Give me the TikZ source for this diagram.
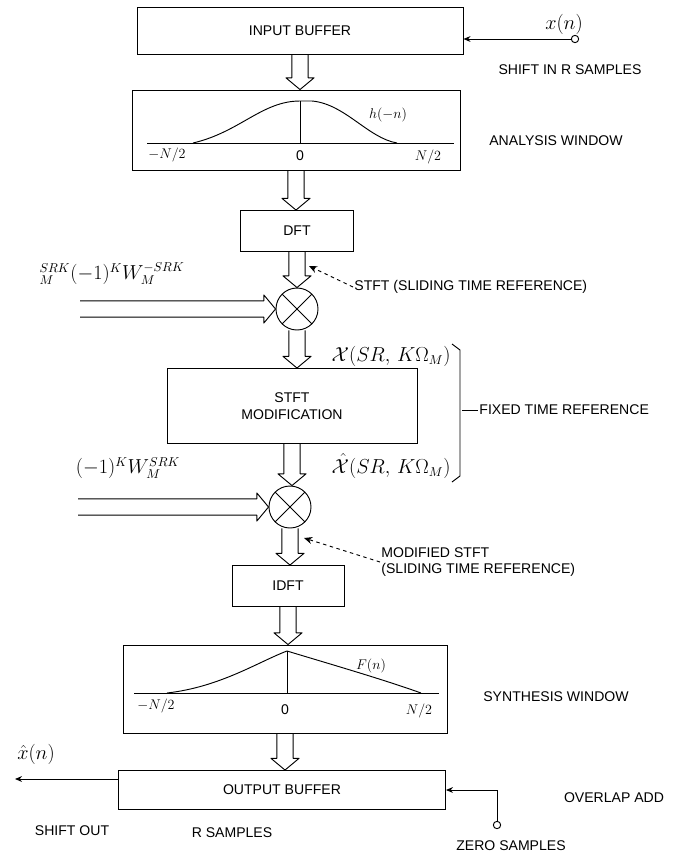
\documentclass[tikz,border=0pt]{standalone}
\usepackage{fontspec}
\setmainfont{Liberation Sans}
\usepackage{amsmath}
\usetikzlibrary{arrows.meta,calc}

\begin{document}
\begin{tikzpicture}[x=0.03cm, y=-0.03cm,
        box/.style={rectangle, draw, thick, align=center, font=\fontsize{12}{14}\selectfont},
        mult/.style={circle, draw, thick, minimum size=1.26cm, inner sep=0pt,
            path picture={\draw[thick] (path picture bounding box.north west) -- (path picture bounding box.south east)
                (path picture bounding box.north east) -- (path picture bounding box.south west);}},
        lbl/.style={font=\fontsize{12}{14}\selectfont, inner sep=1pt},
        mathlbl/.style={font=\fontsize{16}{18}\selectfont, inner sep=1pt},
        tap/.style={circle, draw, thick, inner sep=0pt, minimum size=0.22cm},
        hollowdown/.style={draw, thick, line join=round, to path={let \p1=(\tikztostart), \p2=(\tikztotarget) in
            (\x1-7pt,\y1) -- (\x1-7pt,\y2+10pt) -- (\x1-12pt,\y2+10pt) -- (\x1,\y2)
            -- (\x1+12pt,\y2+10pt) -- (\x1+7pt,\y2+10pt) -- (\x1+7pt,\y1)}},
        hollowright/.style={draw, thick, line join=round, to path={let \p1=(\tikztostart), \p2=(\tikztotarget) in
            (\x1,\y1+7pt) -- (\x2-10pt,\y1+7pt) -- (\x2-10pt,\y1+12pt) -- (\x2,\y1)
            -- (\x2-10pt,\y1-12pt) -- (\x2-10pt,\y1-7pt) -- (\x1,\y1-7pt)}},
        wire/.style={draw, thick, -{Stealth[length=6pt, width=5pt]}},
        pointer/.style={draw, thick, dashed, -{Stealth[length=7pt, width=6pt]}}
    ]
        \useasboundingbox (0,0) rectangle (687,858);

        % Nodes
        \node [box, minimum width=9.78cm, minimum height=1.41cm] (inbuf) at (300,31) {INPUT BUFFER};
        \node [box, minimum width=9.84cm, minimum height=2.4cm] (anwin) at (296,130) {};
        \node [box, minimum width=3.39cm, minimum height=1.23cm] (dft) at (297,231) {DFT};
        \node [mult] (mulA) at (297,309) {};
        \node [box, minimum width=7.5cm, minimum height=2.25cm] (stftmod) at (292,406) {STFT\\MODIFICATION};
        \node [mult] (mulB) at (290,507) {};
        \node [box, minimum width=3.36cm, minimum height=1.23cm] (idft) at (288,586) {IDFT};
        \node [box, minimum width=9.72cm, minimum height=2.64cm] (synwin) at (285,689) {};
        \node [box, minimum width=9.81cm, minimum height=1.17cm] (outbuf) at (282,790) {OUTPUT BUFFER};

        \node [tap] (xin) at (575,39) {};
        \node [tap] (zin) at (497,825) {};
        \coordinate (feedA) at (80,309);
        \coordinate (feedB) at (78,507);
        \coordinate (xout) at (15,779);
        \coordinate (stfttip) at (309,266);
        \coordinate (modtip) at (304,538);

        % Window shapes
        \draw [thick] (147,143) -- (454,143);
        \draw [thick] (300,101) -- (300,143);
        \draw [thick] (193,143) .. controls (240,132) and (262,101) .. (300,101) -- (312,101)
            .. controls (345,104) and (368,138) .. (397,143);
        \draw [thick] (134,693) -- (439,693);
        \draw [thick] (287,651) -- (287,693);
        \draw [thick] (167,693) .. controls (220,687) and (258,662) .. (287,651)
            .. controls (330,664) and (385,680) .. (421,693);

        % Labels
        \node [mathlbl] at (564,24) {$x(n)$};
        \node [lbl] at (570,70) {SHIFT IN R SAMPLES};
        \node [lbl] at (388,115) {$h(-n)$};
        \node [lbl] at (167,155) {$-N/2$};
        \node [lbl] at (300,156) {0};
        \node [lbl] at (428,157) {$N/2$};
        \node [lbl] at (556,141) {ANALYSIS WINDOW};
        \node [mathlbl] at (112,274) {${}^{SRK}_{M}(-1)^{K}W_{M}^{-SRK}$};
        \node [lbl, anchor=west] (stftlbl) at (353,287) {STFT (SLIDING TIME REFERENCE)};
        \node [mathlbl, anchor=east] at (452,356) {$\mathcal{X}(SR,\,K\Omega_{M})$};
        \node [mathlbl, anchor=east] at (452,466) {$\hat{\mathcal{X}}(SR,\,K\Omega_{M})$};
        \node [lbl, anchor=west] (fixlbl) at (478,410) {FIXED TIME REFERENCE};
        \node [mathlbl] at (128,468) {$(-1)^{K}W_{M}^{SRK}$};
        \node [lbl, anchor=west, align=left] (modlbl) at (380,562) {MODIFIED STFT\\(SLIDING TIME REFERENCE)};
        \node [lbl] at (371,666) {$F(n)$};
        \node [lbl] at (156,706) {$-N/2$};
        \node [lbl] at (285,710) {0};
        \node [lbl] at (419,711) {$N/2$};
        \node [lbl] at (556,697) {SYNTHESIS WINDOW};
        \node [mathlbl] at (36,754) {$\hat{x}(n)$};
        \node [lbl] at (614,798) {OVERLAP ADD};
        \node [lbl] at (72,831) {SHIFT OUT};
        \node [lbl] at (232,833) {R SAMPLES};
        \node [lbl] at (511,846) {ZERO SAMPLES};

        % Connections
        \path [hollowdown] (inbuf.south) to (inbuf.south |- anwin.north);
        \path [hollowdown] (anwin.south) to (anwin.south |- dft.north);
        \path [hollowdown] (dft.south) to (dft.south |- mulA.north);
        \path [hollowdown] (mulA.south) to (mulA.south |- stftmod.north);
        \path [hollowdown] (stftmod.south) to (stftmod.south |- mulB.north);
        \path [hollowdown] (mulB.south) to (mulB.south |- idft.north);
        \path [hollowdown] (idft.south) to (idft.south |- synwin.north);
        \path [hollowdown] (synwin.south) to (synwin.south |- outbuf.north);
        \path [hollowright] (feedA) to (mulA.west);
        \path [hollowright] (feedB) to (mulB.west);

        \path [wire] (xin.west) -- (xin -| inbuf.east);
        \path [wire] (outbuf.west |- xout) -- (xout);
        \path [wire] (zin.north) |- (outbuf.east);

        \path [pointer] (stftlbl.west) -- (stfttip);
        \path [pointer] (modlbl.west) -- (modtip);

        % Bracket round the fixed time reference part
        \draw [thick] (452,344) -- (460,350) -- (460,476) -- (452,482);
        \draw [thick] (462,410) -- (fixlbl.west);

    \end{tikzpicture}
\end{document}
